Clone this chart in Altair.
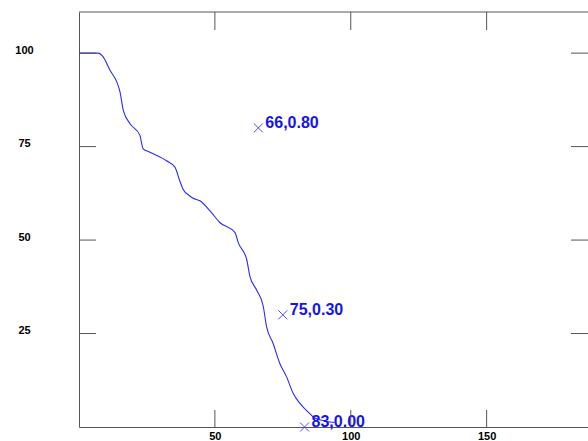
import altair as alt
import pandas as pd

# Declining curve (percent remaining vs. time)
curve_x = [0, 7.1, 8.9, 11.4, 13.9, 15.1, 16.3, 18.8, 22.4, 23.6, 26.1, 32.2, 35.3,
           37.1, 38.3, 40.8, 42.0, 44.5, 48.2, 51.8, 57.4, 58.6, 61.7, 62.9, 65.3,
           67.8, 69.0, 71.4, 73.9, 76.4, 78.8, 81.3, 84.9, 86.5, 94.0]
curve_y = [100, 100, 99.0, 95.4, 92.3, 89.6, 84.7, 81.1, 78.0, 74.4, 73.5, 71.2, 69.5,
           65.8, 63.6, 61.8, 61.2, 60.5, 57.8, 54.7, 52.0, 49.3, 44.8, 40.3, 36.7,
           32.3, 26.9, 22.4, 17.0, 13.4, 9.0, 6.3, 3.6, 2.5, 1.2]

# Marked points, labelled "x,fraction"
mark_x = [66, 75, 83]
mark_y = [80, 30, 0]

x_ticks = [50, 100, 150]
y_ticks = [25, 50, 75, 100]

W, H = 509, 415
AXIS_GRAY = "#555555"
TICK_LEN = 17

curve_df = pd.DataFrame({"x": curve_x, "y": curve_y})
mark_df = pd.DataFrame({"x": mark_x, "y": mark_y})
mark_df["label"] = [f"{x},{y / 100:.2f}" for x, y in zip(mark_x, mark_y)]
xt_df = pd.DataFrame({"x": x_ticks})
yt_df = pd.DataFrame({"y": y_ticks})

xs = alt.Scale(domain=[0, 187.3], nice=False, zero=False)
ys = alt.Scale(domain=[0, 111], nice=False, zero=False)

x_axis = alt.Axis(values=x_ticks, ticks=False, tickSize=0, grid=False, title=None,
                  domainColor=AXIS_GRAY, domainWidth=1, labelPadding=3,
                  labelBaseline="top")
y_axis = alt.Axis(values=y_ticks, ticks=False, tickSize=0, grid=False, title=None,
                  domainColor=AXIS_GRAY, domainWidth=1, labelPadding=55,
                  labelAlign="center", labelBaseline="alphabetic")

line = alt.Chart(curve_df).mark_line(
    color="#2a2aff", strokeWidth=1.1, interpolate="monotone"
).encode(
    x=alt.X("x:Q", scale=xs, axis=x_axis),
    y=alt.Y("y:Q", scale=ys, axis=y_axis),
)

crosses = alt.Chart(mark_df).mark_point(
    shape="M-1,-1L1,1M-1,1L1,-1", size=81, filled=False,
    color="#4a4aff", strokeWidth=1, opacity=1,
).encode(
    x=alt.X("x:Q", scale=xs, axis=x_axis),
    y=alt.Y("y:Q", scale=ys, axis=y_axis),
)

labels = alt.Chart(mark_df).mark_text(
    align="left", baseline="alphabetic", dx=7, dy=0,
    font="Liberation Sans", fontSize=16, fontWeight="bold", color="#1414f0",
).encode(
    x=alt.X("x:Q", scale=xs, axis=x_axis),
    y=alt.Y("y:Q", scale=ys, axis=y_axis),
    text="label:N",
)

# Inward tick marks on all four sides
y_left = alt.Chart(yt_df).mark_rule(color=AXIS_GRAY, strokeWidth=1).encode(
    y=alt.Y("y:Q", scale=ys, axis=y_axis), x=alt.value(0), x2=alt.value(TICK_LEN))
y_right = alt.Chart(yt_df).mark_rule(color=AXIS_GRAY, strokeWidth=1).encode(
    y=alt.Y("y:Q", scale=ys, axis=y_axis), x=alt.value(W - TICK_LEN), x2=alt.value(W))
x_bottom = alt.Chart(xt_df).mark_rule(color=AXIS_GRAY, strokeWidth=1).encode(
    x=alt.X("x:Q", scale=xs, axis=x_axis), y=alt.value(H - TICK_LEN), y2=alt.value(H))
x_top = alt.Chart(xt_df).mark_rule(color=AXIS_GRAY, strokeWidth=1).encode(
    x=alt.X("x:Q", scale=xs, axis=x_axis), y=alt.value(0), y2=alt.value(TICK_LEN + 1))

# Top frame edge
top_edge = alt.Chart(pd.DataFrame({"k": [0]})).mark_rule(
    color=AXIS_GRAY, strokeWidth=1
).encode(x=alt.value(0), x2=alt.value(W), y=alt.value(0))

chart = alt.layer(line, crosses, labels, y_left, y_right, x_bottom, x_top, top_edge).properties(
    width=W,
    height=H,
    padding={"left": 79, "top": 12, "right": 0, "bottom": 14},
    autosize="none",
    background="white",
).configure_view(
    stroke=None
).configure_axis(
    labelFont="Liberation Sans",
    labelFontSize=11,
    labelFontWeight="bold",
    labelColor="#000000",
)

chart.save("out.html", embed_options={"renderer": "svg", "actions": False})
